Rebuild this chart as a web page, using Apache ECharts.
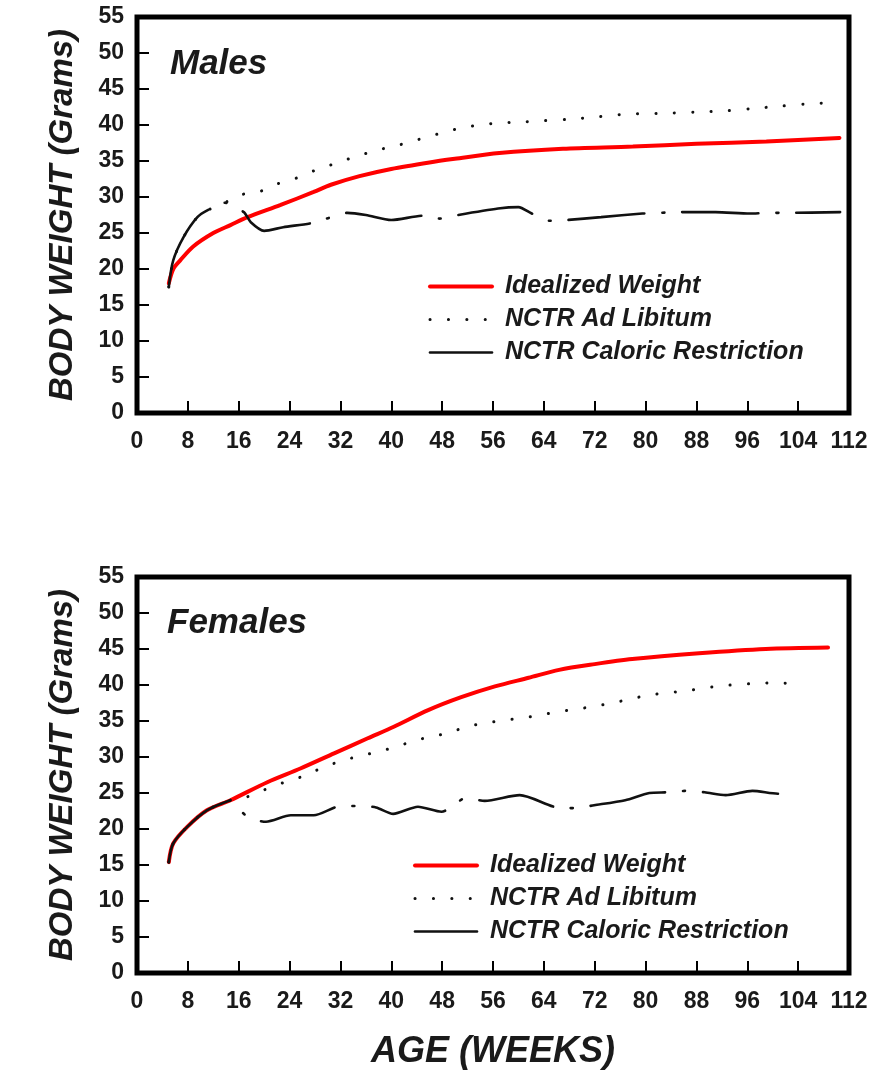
<!DOCTYPE html>
<html><head><meta charset="utf-8">
<script src="https://cdn.jsdelivr.net/npm/echarts@6/dist/echarts.min.js"></script>
<style>html,body{margin:0;padding:0;background:#fff}#c{width:878px;height:1071px}</style>
</head><body><div id="c"></div>
<script>
// ---- data ----
const panelTitles = ['Males', 'Females'];
const seriesNames = ['Idealized Weight', 'NCTR Ad Libitum', 'NCTR Caloric Restriction'];
const yAxisName = 'BODY WEIGHT (Grams)';
const xAxisName = 'AGE (WEEKS)';

const maleIdealWeeks  = [5, 5.7, 6.8, 8.8, 12, 14.7, 17.4, 22.6, 27.8, 30.5, 35, 40, 46, 50, 57, 67, 78, 88, 99, 110.5];
const maleIdealWeight = [18.0, 20.0, 21.2, 23.1, 25.0, 26.1, 27.2, 28.9, 30.7, 31.7, 32.9, 33.9, 34.8, 35.3, 36.1, 36.7, 37.0, 37.4, 37.7, 38.2];

const maleAdLibWeeks  = [5, 5.7, 7.3, 9.5, 11.2, 13.8, 16.3, 19.1, 22, 25, 28, 31, 34, 37, 40, 43, 45, 48, 51, 54, 57, 60, 64, 68, 72, 77, 82, 88, 93, 97, 101, 105, 109];
const maleAdLibWeight = [17.5, 21.2, 24.4, 27.2, 28.2, 29.2, 30.3, 30.7, 31.8, 32.6, 33.7, 34.6, 35.5, 36.3, 37.0, 37.6, 38.2, 38.9, 39.6, 40.0, 40.3, 40.4, 40.6, 40.8, 41.1, 41.5, 41.6, 41.8, 42.0, 42.3, 42.6, 42.9, 43.1];

// weeks 5 to 11.2 were shared by both NCTR groups before restriction began
const maleCRSharedUntil = 11.2;
const maleCRWeeks  = [5, 5.7, 7.3, 9.5, 11.2, 13.8, 16.8, 17.9, 20, 23, 27.6, 30.2, 33.1, 36, 40, 45, 47.6, 50.5, 56.8, 60, 62.1, 64.9, 67.6, 73, 79.5, 82.1, 85, 91, 96.4, 99.5, 102, 110.6];
const maleCRWeight = [17.5, 21.2, 24.4, 27.2, 28.2, 29.2, 27.9, 26.5, 25.3, 25.8, 26.4, 27.1, 27.8, 27.5, 26.8, 27.4, 27.0, 27.5, 28.4, 28.6, 27.7, 26.7, 26.8, 27.2, 27.7, 27.8, 27.9, 27.9, 27.7, 27.8, 27.8, 27.9];

const femaleIdealWeeks  = [5, 5.7, 7.9, 11, 14.7, 20.5, 25.7, 31, 36.3, 40.4, 45.8, 51, 56.3, 61.6, 66.4, 72, 77.9, 88.4, 98.9, 108.7];
const femaleIdealWeight = [15.4, 18.0, 20.3, 22.6, 24.0, 26.5, 28.4, 30.5, 32.6, 34.2, 36.5, 38.3, 39.8, 41.0, 42.1, 42.9, 43.6, 44.4, 45.0, 45.2];

const femaleAdLibWeeks  = [5, 5.7, 7.9, 11, 14.7, 17.1, 19.9, 22.9, 25.7, 28.6, 31.6, 34.4, 37.3, 40.3, 43.1, 46, 48.9, 51.8, 54.7, 57.6, 60.4, 63.3, 66.2, 68.9, 74.7, 80.6, 86.3, 92.1, 97, 100.8, 103.6];
const femaleAdLibWeight = [15.4, 18.0, 20.3, 22.6, 24.0, 24.4, 25.4, 26.4, 27.2, 28.3, 29.3, 30.0, 30.6, 31.3, 32.1, 32.8, 33.3, 34.2, 34.7, 35.1, 35.4, 35.8, 36.3, 36.6, 37.5, 38.6, 39.2, 39.9, 40.2, 40.3, 40.1];

const femaleCRSharedUntil = 14.7;
const femaleCRWeeks  = [5, 5.7, 7.9, 11, 14.7, 17.4, 20.3, 24.2, 27.8, 32.1, 34.8, 37.6, 40.3, 44.2, 47.9, 51.8, 54.7, 60.2, 66, 68.9, 71.9, 76.8, 80.6, 83.4, 86.3, 89.3, 92.6, 96.8, 100.8, 103.6];
const femaleCRWeight = [15.4, 18.0, 20.3, 22.6, 24.0, 21.7, 21.0, 21.9, 21.9, 23.2, 23.2, 23.0, 22.1, 23.1, 22.4, 24.3, 23.9, 24.7, 23.0, 22.9, 23.3, 24.0, 25.0, 25.1, 25.3, 25.1, 24.7, 25.3, 24.9, 25.1];

// ---- chart ----
function pairs(w, v) { return w.map((x, i) => [x, v[i]]); }
const FONT = '"Liberation Sans", Arial, Helvetica, sans-serif';
const INK = '#1a1a1a';

const panels = [
  { top: 17,  ideal: [maleIdealWeeks, maleIdealWeight], adlib: [maleAdLibWeeks, maleAdLibWeight], cr: [maleCRWeeks, maleCRWeight], split: maleCRSharedUntil,
    legendLeft: 428, legendTop: 274, titleTop: 47, titleLeft: 170 },
  { top: 577, ideal: [femaleIdealWeeks, femaleIdealWeight], adlib: [femaleAdLibWeeks, femaleAdLibWeight], cr: [femaleCRWeeks, femaleCRWeight], split: femaleCRSharedUntil,
    legendLeft: 413, legendTop: 853, titleTop: 606, titleLeft: 167 }
];

const RED = '#ff0000';
const BLACK = '#111';
const idealStyle = { color: RED, width: 4, type: 'solid', cap: 'round' };
const adlibStyle = { color: BLACK, width: 3, type: [0.1, 18.3], cap: 'round' };
const crDash = [76, 18, 2, 18];
const crStyle = { color: BLACK, width: 2.6, type: crDash, cap: 'round', dashOffset: crDash[0] };

const option = {
  backgroundColor: '#fff',
  animation: false,
  textStyle: { fontFamily: FONT },
  title: panels.map((p, i) => ({
    text: panelTitles[i], left: p.titleLeft, top: p.titleTop, padding: 0,
    textStyle: { fontFamily: FONT, fontSize: 35, fontWeight: 'bold', fontStyle: 'italic', color: INK }
  })),
  grid: panels.map(p => ({ left: 137, width: 712, top: p.top, height: 396, show: true, borderColor: '#000', borderWidth: 5, backgroundColor: 'transparent' })),
  xAxis: panels.map((p, i) => ({
    type: 'value', gridIndex: i, min: 0, max: 112, interval: 8,
    name: i === 1 ? xAxisName : '', nameLocation: 'middle', nameGap: 61,
    nameTextStyle: { fontFamily: FONT, fontSize: 36, fontWeight: 'bold', fontStyle: 'italic', color: INK },
    axisLine: { show: false },
    axisTick: { show: true, inside: true, length: 12, lineStyle: { color: '#000', width: 2 } },
    axisLabel: { fontFamily: FONT, fontSize: 23, fontWeight: 'bold', color: INK, margin: 17 },
    splitLine: { show: false }
  })),
  yAxis: panels.map((p, i) => ({
    type: 'value', gridIndex: i, min: 0, max: 55, interval: 5,
    name: yAxisName, nameLocation: 'middle', nameGap: 58, nameRotate: 90,
    nameTextStyle: { fontFamily: FONT, fontSize: 33, fontWeight: 'bold', fontStyle: 'italic', color: INK },
    axisLine: { show: false },
    axisTick: { show: true, inside: true, length: 12, lineStyle: { color: '#000', width: 2 } },
    axisLabel: { fontFamily: FONT, fontSize: 23, fontWeight: 'bold', color: INK, margin: 13 },
    splitLine: { show: false }
  })),
  legend: panels.map(p => ({
    left: p.legendLeft, top: p.legendTop, orient: 'vertical', itemWidth: 62, itemHeight: 20, itemGap: 8,
    selectedMode: false, padding: 0,
    data: [
      { name: seriesNames[0], itemStyle: { opacity: 0 }, lineStyle: { color: RED, width: 4, type: 'solid', cap: 'round' } },
      { name: seriesNames[1], itemStyle: { opacity: 0 }, lineStyle: { color: BLACK, width: 3, type: [0.1, 18.3], cap: 'round' } },
      { name: seriesNames[2], itemStyle: { opacity: 0 }, lineStyle: { color: BLACK, width: 2.6, type: 'solid', cap: 'round' } }
    ],
    textStyle: { fontFamily: FONT, fontSize: 25, fontWeight: 'bold', fontStyle: 'italic', color: INK, padding: [0, 0, 0, 8] }
  })),
  series: []
};

function lineSeries(name, gi, data, st, smooth, z) {
  const ls = { color: st.color, width: st.width, type: st.type, cap: st.cap };
  if (st.dashOffset !== undefined) ls.dashOffset = st.dashOffset;
  return { name, type: 'line', xAxisIndex: gi, yAxisIndex: gi, data, symbol: 'none', smooth,
           lineStyle: ls, itemStyle: { color: st.color }, z };
}

panels.forEach((p, gi) => {
  option.series.push(lineSeries(seriesNames[0], gi, pairs(p.ideal[0], p.ideal[1]), idealStyle, 0.3, 2));
  option.series.push(lineSeries(seriesNames[1], gi, pairs(p.adlib[0], p.adlib[1]), adlibStyle, 0.3, 3));
  const k = p.cr[0].indexOf(p.split);
  const shared = pairs(p.cr[0].slice(0, k + 1), p.cr[1].slice(0, k + 1));
  const later = pairs(p.cr[0].slice(k), p.cr[1].slice(k));
  option.series.push(lineSeries(seriesNames[2], gi, shared, Object.assign({}, crStyle, { type: 'solid', dashOffset: undefined }), 0.3, 4));
  option.series.push(lineSeries(seriesNames[2], gi, later, crStyle, 0.25, 4));
});

const chart = echarts.init(document.getElementById('c'), null, { renderer: 'canvas' });
chart.setOption(option);
</script></body></html>
